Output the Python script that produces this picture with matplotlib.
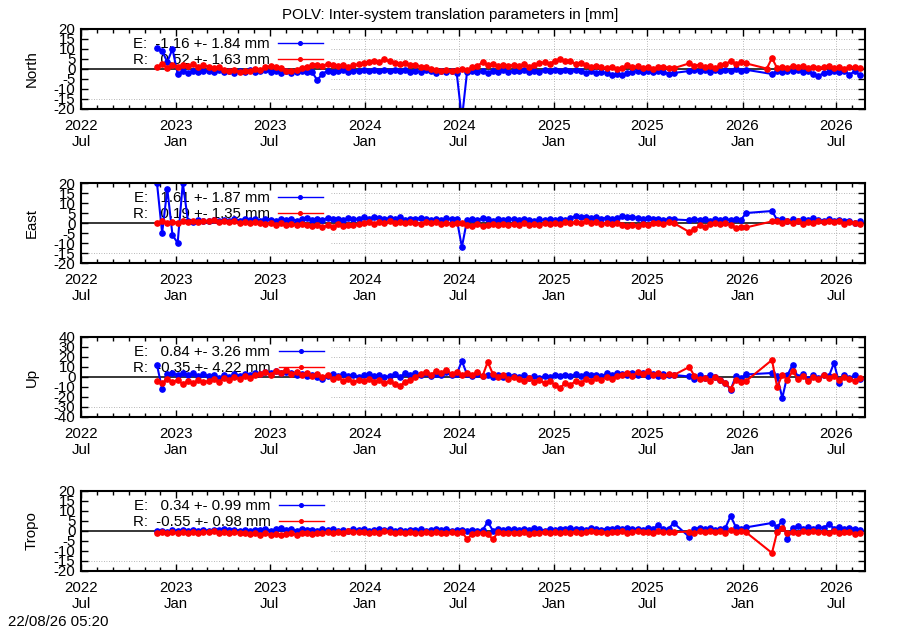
import numpy as np
import pandas as pd
import matplotlib
matplotlib.use('Agg')
import matplotlib.pyplot as plt
import matplotlib.dates as mdates

nan = np.nan

# one sample every 10 days, nan = no solution (line jumps the gap)
dates = pd.date_range('2022-11-25', '2026-08-21', freq='10D')

north_e = [
    10.5, 9.0, 3.5, 10.0, -2.5, -1.0, -1.8, -0.8, -1.5, -1.2,
    -1.0, -1.6, -0.6, -1.4, -0.8, -1.8, -1.0, -1.5, -0.7, -1.3,
    -1.2, -0.5, -1.5, -1.0, -1.8, -1.2, -2.0, -1.4, -1.0, -1.7,
    -1.5, -5.5, -2.5, -0.8, -1.6, -1.0, -0.6, -1.4, -0.8, -1.2,
    -0.5, -1.0, -0.3, -1.2, -0.6, -1.1, -0.4, -1.0, -0.6, -1.3,
    -0.8, -1.5, -0.6, -1.2, -1.8, -0.9, -1.5, -1.0, -2.0, -25.0,
    -1.5, -0.8, -1.4, -1.0, -1.8, -0.9, -1.3, -0.7, -1.5, -1.0,
    -1.2, -0.6, -1.6, -0.9, -1.3, -0.5, -1.0, -0.4, -0.9, -0.6,
    -1.0, -0.5, -1.2, -1.8, -1.0, -2.0, -1.4, -2.2, -3.0, -2.6,
    -3.2, -2.0, -1.5, -1.0, -1.6, -0.8, -1.3, -1.0, -1.6, -2.4,
    -2.0, nan, nan, -1.0, -0.4, -1.2, -0.6, -1.4, -0.5, -1.0,
    -0.3, -1.0, -0.2, -0.8, -0.4, nan, nan, nan, nan, -2.5,
    -1.0, -1.5, -0.8, -1.2, -0.6, -1.4, -1.0, -2.5, -3.5, -2.0,
    -1.4, -0.8, -1.6, -1.0, -2.8, -1.2, -3.0,
]
north_r = [
    1.0, 2.5, 0.5, 1.8, 1.2, 2.0, 1.5, 2.4, 1.0, 1.8,
    1.2, 0.5, 0.8, -0.5, -1.2, -0.6, -1.5, -0.8, -1.0, 0.2,
    -0.5, 0.8, 1.5, 1.0, 0.4, -0.8, -1.2, -0.4, 0.6, 1.2,
    1.8, 2.2, 1.5, 2.6, 2.0, 1.4, 2.2, 1.2, 1.8, 2.4,
    3.0, 3.6, 4.2, 3.4, 4.8, 3.8, 3.2, 2.4, 2.8, 1.8,
    2.2, 1.2, 0.8, 0.2, -0.6, -1.0, -0.4, -1.2, -0.6, 0.2,
    -0.5, 0.8, 1.4, 3.5, 1.8, 2.6, 1.4, 2.2, 1.6, 2.0,
    1.6, 2.4, 1.2, 2.0, 2.8, 3.4, 2.6, 4.2, 5.0, 4.0,
    3.8, 2.6, 3.2, 2.0, 1.2, 1.6, 0.8, 0.4, 1.0, 0.2,
    0.6, 1.8, 0.8, 1.4, 0.4, 1.2, 0.2, 0.8, 1.2, 0.6,
    0.4, nan, nan, 2.8, 1.6, 2.2, 0.8, 1.4, 0.6, 1.8,
    2.6, 3.8, 2.4, 3.6, 2.8, nan, nan, nan, 0.2, 5.5,
    0.4, 1.2, 0.6, 1.6, 0.8, 1.4, 0.6, 1.2, 0.4, 1.0,
    1.4, 0.6, 1.2, 0.2, 0.8, 1.0, 0.4,
]

east_e = [
    20.0, -5.0, 17.0, -6.0, -10.0, 20.0, 1.0, 0.5, 1.4, 0.8,
    1.0, 1.6, 0.8, 1.4, 1.0, 1.8, 1.2, 2.0, 1.4, 1.8,
    1.2, 2.2, 1.6, 1.0, 1.8, 1.4, 2.0, 1.2, 1.8, 2.4,
    1.6, 2.2, 1.4, 2.6, 1.8, 2.0, 1.4, 2.4, 1.8, 2.2,
    2.8, 2.0, 3.2, 2.4, 1.8, 2.6, 2.0, 2.8, 1.6, 2.2,
    1.8, 2.6, 2.0, 1.4, 2.2, 1.6, 2.4, 1.8, 2.0, -12.0,
    1.4, 2.0, 1.6, 2.4, 1.8, 1.2, 2.0, 1.6, 2.2, 1.8,
    1.4, 2.2, 1.6, 1.0, 1.8, 1.4, 2.2, 1.6, 2.0, 1.4,
    2.6, 3.4, 2.8, 3.2, 2.4, 3.0, 2.2, 2.6, 2.0, 2.4,
    3.6, 2.8, 3.2, 2.4, 2.0, 2.6, 1.8, 2.2, 1.6, 2.0,
    1.8, nan, nan, 1.4, 2.0, 1.6, 2.2, 1.2, 1.8, 1.4,
    2.0, 1.4, 2.0, 1.6, 5.0, nan, nan, nan, nan, 6.0,
    1.6, 2.2, 1.2, 1.8, 1.0, 2.0, 1.4, 2.4, 1.6, 1.2,
    1.8, 1.0, 1.6, 0.8, 1.2, 0.0, 0.8,
]
east_r = [
    0.2, 0.8, 0.0, 0.6, 0.2, 0.8, 0.4, 1.0, 0.6, 1.2,
    0.8, 1.4, 0.6, 1.2, 0.4, 1.0, 0.2, 0.6, -0.2, 0.4,
    0.0, -0.6, 0.2, -0.8, -0.2, -1.0, -0.4, -1.2, -0.6, -1.0,
    -1.6, -0.8, -2.2, -1.2, -1.8, -0.6, -1.4, -0.8, -1.2, -0.4,
    -0.2, 0.4, -0.4, 0.6, 0.0, 0.8, 0.2, 0.6, 0.0, 0.4,
    0.2, -0.4, 0.6, -0.2, 0.4, -0.6, 0.0, -0.4, 0.2, -0.2,
    -0.8, -1.4, -0.6, -1.6, -1.0, -0.4, -1.2, -0.6, -1.0, -0.4,
    -0.8, -0.2, -1.0, -0.4, -0.8, 0.0, -0.6, 0.2, -0.4, 0.4,
    0.0, 0.6, -0.2, 0.8, 0.2, 0.4, -0.6, 0.2, -0.4, 0.0,
    -1.0, -1.6, -0.8, -1.4, -0.6, -1.2, -0.2, 0.2, -0.4, 0.4,
    0.0, nan, nan, -4.5, -3.0, -1.2, -2.0, -0.6, 0.2, -0.4,
    0.0, -0.8, -2.5, -1.8, -2.2, nan, nan, nan, nan, 0.8,
    1.0, 0.2, 1.2, -0.2, 0.8, -0.4, 0.6, 0.0, 1.0, 0.4,
    1.2, 0.4, 1.0, -0.4, 0.6, 0.2, -0.6,
]

up_e = [
    12.0, -12.0, 3.0, 4.0, 1.5, 3.5, 2.0, 4.0, 1.0, 3.0,
    0.5, 2.0, -1.0, 1.5, 0.0, 2.5, 1.0, 3.0, 2.0, 4.0,
    3.0, 5.0, 4.0, 6.0, 3.5, 5.0, 4.0, 2.0, 3.0, 1.0,
    2.0, 0.0, -2.0, 1.0, 2.5, 0.5, 3.0, 1.0, 2.0, 0.0,
    1.5, 3.0, 0.5, 2.0, -0.5, 1.0, 2.5, 0.0, 3.5, 2.0,
    4.0, 2.0, 3.5, 1.0, 3.0, 2.0, 4.5, 1.5, 3.0, 16.0,
    2.5, 1.0, 3.0, 0.5, 2.0, -0.5, 1.5, 0.0, 2.0, 1.0,
    0.0, 1.5, -1.0, 0.5, -1.5, 1.0, 0.0, 2.0, 0.5, 1.5,
    0.5, 2.5, 1.0, 3.0, 1.5, 2.0, 0.5, 3.5, 2.0, 4.0,
    3.0, 1.5, 4.0, 2.0, 3.5, 1.0, 2.5, 0.5, 3.0, 1.5,
    2.0, nan, nan, 0.5, -2.0, 1.5, -1.0, 2.0, 0.0, -3.0,
    -6.0, -13.0, 1.0, -1.0, 2.5, nan, nan, nan, nan, 4.0,
    0.5, -21.0, 2.0, 12.0, 0.0, 2.5, -2.0, 1.5, -1.0, 2.0,
    0.5, 14.0, -6.0, 2.0, -1.0, 1.5, -2.0,
]
up_r = [
    -4.0, -6.0, -2.0, -5.0, -3.0, -7.0, -4.0, -6.0, -3.0, -5.0,
    -4.0, -2.0, -5.0, -1.0, -3.0, 0.0, -2.0, 1.0, -1.0, 2.0,
    3.0, 5.0, 2.0, 6.0, 4.0, 7.0, 3.0, 5.0, 2.0, 4.0,
    1.0, 3.0, 0.0, 2.0, -2.0, 0.0, -4.0, -2.0, -5.0, -3.0,
    -4.0, -2.0, -5.0, -3.0, -6.0, -4.0, -7.0, -9.0, -5.0, -3.0,
    0.0, 3.0, 5.0, 2.0, 6.0, 4.0, 7.0, 3.0, 5.0, 2.0,
    4.0, 2.0, 5.0, 1.0, 15.0, 3.0, 0.0, 2.0, -2.0, 0.0,
    -2.0, -4.0, -1.0, -5.0, -3.0, -6.0, -4.0, -8.0, -11.0, -6.0,
    -8.0, -4.0, -6.0, -2.0, -4.0, -1.0, -3.0, 0.0, -2.0, 1.0,
    2.0, 4.0, 1.0, 5.0, 3.0, 6.0, 2.0, 4.0, 1.0, 3.0,
    2.0, nan, nan, 10.0, 1.0, -2.0, -1.0, -4.0, 0.0, -3.0,
    -6.0, -12.0, -3.0, -5.0, -4.0, nan, nan, nan, nan, 17.0,
    -10.0, 2.0, -3.0, 6.0, -2.0, 1.0, -4.0, 0.0, -2.0, 2.0,
    -1.0, 1.0, -3.0, 0.0, -2.0, -4.0, -1.0,
]

tropo_e = [
    -0.2, 0.2, -0.4, 0.4, 0.0, 0.3, -0.2, 0.5, 0.1, 0.4,
    0.2, 0.6, 0.3, 0.8, 0.4, 0.6, 0.2, 0.5, 0.0, 0.6,
    0.4, 1.2, 0.2, 0.8, 1.6, 0.4, 1.0, 0.2, 0.8, 0.4,
    0.6, 0.2, 1.0, 0.4, 0.8, 0.0, 0.6, 0.2, 1.0, 0.4,
    0.8, 0.2, 0.6, 1.2, 0.4, 0.8, 0.2, 0.6, 0.0, 0.5,
    0.3, 0.8, 0.2, 0.6, 1.0, 0.4, 0.8, 0.2, 0.6, 0.4,
    0.2, 0.6, 0.0, 0.4, 4.5, 0.2, 1.0, 0.6, 1.2, 0.8,
    0.4, 1.0, 0.6, 1.4, 0.8, 0.2, 1.0, 0.6, 1.2, 0.8,
    1.4, 0.8, 1.2, 0.6, 1.6, 1.0, 0.4, 1.2, 0.8, 1.4,
    1.0, 1.6, 0.8, 1.2, 0.6, 1.4, 1.0, 3.0, 0.8, 1.2,
    4.0, nan, nan, -3.0, 1.0, 1.6, 0.8, 1.4, 0.6, 1.2,
    1.6, 7.5, 2.0, 1.2, 1.8, nan, nan, nan, nan, 4.0,
    2.0, 5.0, -4.0, 1.6, 2.4, 1.2, 1.8, 1.0, 2.0, 1.4,
    3.5, 1.2, 2.0, 0.8, 1.6, 1.0, 0.4,
]
tropo_r = [
    -0.8, -0.4, -1.0, -0.6, -1.2, -0.5, -0.9, -0.3, -0.8, -0.4,
    -0.6, -0.2, -0.8, -0.4, -1.0, -0.6, -1.2, -0.8, -1.6, -1.0,
    -1.8, -1.2, -2.0, -1.4, -2.2, -1.6, -1.0, -1.8, -1.2, -0.8,
    -1.4, -0.8, -1.2, -0.6, -1.0, -0.4, -0.8, -0.2, -0.6, -0.3,
    -0.6, -1.0, -0.4, -0.8, -0.2, -0.6, -1.0, -0.5, -0.9, -0.4,
    -0.8, -1.2, -0.6, -1.0, -0.4, -0.8, -1.2, -0.6, -1.0, -0.5,
    -4.0, -1.6, -1.2, -0.8, -1.4, -4.2, -0.6, -1.2, -1.0, -0.8,
    -1.2, -0.6, -1.4, -0.8, -1.0, -0.4, -1.2, -0.6, -0.9, -0.5,
    -0.8, -0.3, -1.0, -0.5, -0.2, -0.7, -0.3, -0.9, -0.4, -0.6,
    -0.2, -0.8, -0.4, -0.1, -0.6, -0.3, -0.8, -0.2, -0.5, -0.4,
    -0.6, nan, nan, -0.3, -0.8, -0.2, -0.6, 0.2, -0.4, -0.1,
    -0.8, 0.4, -0.6, -0.2, -0.7, nan, nan, nan, nan, -11.0,
    -0.5, 1.5, -1.2, -0.4, -0.9, -0.2, -0.7, 0.0, -0.6, -0.3,
    -0.8, -0.2, -1.0, -0.4, -0.6, -1.4, -0.8,
]

panel_names = ['North', 'East', 'Up', 'Tropo']
e_series = [north_e, east_e, up_e, tropo_e]
r_series = [north_r, east_r, up_r, tropo_r]
y_limits = [20, 20, 40, 20]
y_steps = [5, 5, 10, 5]
e_labels = ['E:  -1.16 +- 1.84 mm', 'E:   1.61 +- 1.87 mm',
            'E:   0.84 +- 3.26 mm', 'E:   0.34 +- 0.99 mm']
r_labels = ['R:   0.52 +- 1.63 mm', 'R:   0.19 +- 1.35 mm',
            'R:  -0.35 +- 4.22 mm', 'R:  -0.55 +- 0.98 mm']

fs = 10.8
plt.rcParams['font.family'] = ['Liberation Sans', 'DejaVu Sans']
plt.rcParams['font.size'] = fs

fig = plt.figure(figsize=(9, 6.3), dpi=100)
x0, x1 = pd.Timestamp('2022-07-01'), pd.Timestamp('2026-08-26')
key_w = 0.319   # the key box hides the grid in the upper left
bottoms = [0.827, 0.5825, 0.3381, 0.0937]

for k in range(4):
    ax = fig.add_axes([0.09, bottoms[k], 0.8711, 0.127])
    lim, step = y_limits[k], y_steps[k]
    ax.set_xlim(x0, x1)
    ax.set_ylim(-lim, lim)
    yt = np.arange(-lim, lim + step, step)
    ax.set_yticks(yt)
    ax.set_yticklabels([str(v) for v in yt])
    ax.xaxis.set_major_locator(mdates.MonthLocator(bymonth=[1, 7]))
    ax.xaxis.set_minor_locator(mdates.MonthLocator())
    ax.xaxis.set_major_formatter(mdates.DateFormatter('%Y\n%b'))
    ax.tick_params(which='both', direction='in', top=True, right=True,
                   width=1, labelsize=fs)
    ax.tick_params(which='major', length=5)
    ax.tick_params(which='minor', length=3)
    ax.tick_params(axis='x', pad=7)
    ax.tick_params(axis='y', pad=4)
    for s in ax.spines.values():
        s.set_linewidth(1.5)

    # dotted grid, drawn by hand so the key area stays clear
    gkw = dict(color='#a0a0a0', ls=(0, (1, 2)), lw=0.6, zorder=0.8)
    for v in yt[1:-1]:
        if v == 0:
            continue
        if v > -0.625 * lim:
            ax.axhline(v, xmin=key_w, xmax=1, **gkw)
        else:
            ax.axhline(v, **gkw)
    for d in pd.date_range('2023-01-01', '2026-07-01', freq='6MS'):
        frac = (d - x0) / (x1 - x0)
        if frac > key_w:
            ax.axvline(d, **gkw)

    ax.axhline(0, color='black', lw=1.1, zorder=1.8)

    handles = []
    for vals, col in ((e_series[k], 'blue'), (r_series[k], 'red')):
        v = np.array(vals, dtype=float)
        n = min(len(v), len(dates))
        v = v[:n]
        m = ~np.isnan(v)
        ln, = ax.plot(dates[:n][m], v[m], color=col, lw=1.5, marker='o',
                      ms=3.8, mec=col, zorder=2)
        handles.append(ln)

    leg = ax.legend(handles, [e_labels[k], r_labels[k]], loc='upper left',
                    bbox_to_anchor=(0.066, 0.90), frameon=False,
                    markerfirst=False, handlelength=3.0, handletextpad=0.55,
                    labelspacing=0.15, borderpad=0, borderaxespad=0,
                    fontsize=fs)
    for h in leg.legend_handles:
        h.set_markersize(2.6)
        h.set_linewidth(1.0)
    leg.set_zorder(1.5)

    ax.set_ylabel(panel_names[k], fontsize=fs)
    ax.yaxis.set_label_coords(-0.0536, 0.5)

fig.text(0.5, 1 - 15 / 630, 'POLV: Inter-system translation parameters in [mm]',
         ha='center', va='center', fontsize=fs)
fig.text(8 / 900, 1 - 622 / 630, '22/08/26 05:20', ha='left', va='center',
         fontsize=fs)

fig.savefig('out.png', dpi=100)
